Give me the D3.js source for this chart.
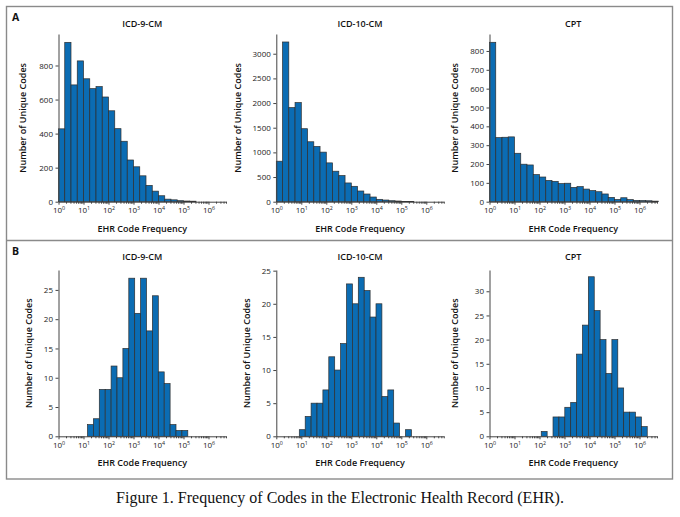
<!DOCTYPE html>
<html><head><meta charset="utf-8">
<script src="https://cdn.jsdelivr.net/npm/d3@7"></script>
<style>body{margin:0;background:#fff}</style>
</head><body><svg id="c" width="680" height="517"></svg>
<script>
// ---------- DATA ----------
const titles = ["ICD-9-CM", "ICD-10-CM", "CPT"];
const panelLabels = ["A", "B"];
const xLabel = "EHR Code Frequency";
const yLabel = "Number of Unique Codes";
const caption = "Figure 1. Frequency of Codes in the Electronic Health Record (EHR).";
const decadeExponents = [0, 1, 2, 3, 4, 5, 6];

// Panel A: histogram bins in log10(frequency), each bin 0.25 wide starting at 10^0
const aBinStart = [0, 0, 0];
const aBinWidth = [0.25, 0.25, 0.25];
const aICD9  = [428, 936, 686, 827, 722, 664, 676, 615, 534, 429, 355, 245, 205, 152, 96, 62, 35, 15, 11, 6, 4, 3];
const aICD10 = [821, 3238, 1908, 2010, 1480, 1215, 1120, 1005, 787, 618, 530, 380, 312, 217, 156, 95, 48, 34, 20, 14, 7, 4];
const aCPT   = [846, 340, 342, 344, 257, 199, 195, 144, 131, 113, 108, 96, 98, 76, 80, 67, 59, 53, 41, 23, 12, 21, 11, 7, 6, 5, 3];

// Panel B: histogram bins in log10(frequency)
const bBinStart = [1.16, 0.92, 2.07];
const bBinWidth = [0.236, 0.236, 0.2355];
const bICD9  = [2, 3, 8, 8, 12, 10, 15, 27, 21, 27, 18, 24, 11, 9, 2, 1, 1];
const bICD10 = [1, 3, 5, 5, 7, 12, 10, 14, 23, 20, 24, 22, 18, 20, 6, 7, 2, 0, 1];
const bCPT   = [1, 0, 4, 4, 6, 7, 17, 23, 33, 26, 20, 13, 20, 10, 5, 5, 4, 2];

// y-axis domains and tick values
const aYMax = [985, 3400, 890];
const aYTicks = [[0,200,400,600,800],[0,500,1000,1500,2000,2500,3000],[0,100,200,300,400,500,600,700,800]];
const bYMax = [28.4, 25.1, 34.4];
const bYTicks = [[0,5,10,15,20,25],[0,5,10,15,20,25],[0,5,10,15,20,25,30]];
const xMaxExp = 6.7;

// ---------- LAYOUT ----------
const svg = d3.select("#c");
const font = "'Open Sans', 'Noto Sans', sans-serif";
const colX0 = [58.5, 276.3, 489.5];
const decadePx = 25;
const ylabOffsetA = [35.5, 38.5, 34.5];
const ylabOffsetB = [29.5, 29.5, 34.5];
const rows = [
  {label: panelLabels[0], yBottom: 201.7, yTop: 34, titleY: 26.5, xlabY: 231.5, labelY: 21,
   series: [aICD9, aICD10, aCPT], start: aBinStart, width: aBinWidth, ymax: aYMax, yticks: aYTicks, ylabOff: ylabOffsetA},
  {label: panelLabels[1], yBottom: 436.3, yTop: 270, titleY: 259.5, xlabY: 466, labelY: 255,
   series: [bICD9, bICD10, bCPT], start: bBinStart, width: bBinWidth, ymax: bYMax, yticks: bYTicks, ylabOff: ylabOffsetB}
];

// frame
svg.append("rect").attr("x", 6.5).attr("y", 6.5).attr("width", 666).attr("height", 472.5)
  .attr("fill", "none").attr("stroke", "#8a8a8a").attr("stroke-width", 1.4);
svg.append("line").attr("x1", 6.5).attr("x2", 672.5).attr("y1", 240.5).attr("y2", 240.5)
  .attr("stroke", "#8a8a8a").attr("stroke-width", 1.4);

const axisColor = "#444";

rows.forEach((row, ri) => {
  svg.append("text").attr("x", 12).attr("y", row.labelY).text(row.label)
    .attr("font-family", font).attr("font-weight", 700).attr("font-size", 10.5).attr("fill", "#111");

  row.series.forEach((vals, ci) => {
    const x0 = colX0[ci];
    const x = d3.scaleLog().domain([1, Math.pow(10, xMaxExp)]).range([x0, x0 + decadePx * xMaxExp]);
    const y = d3.scaleLinear().domain([0, row.ymax[ci]]).range([row.yBottom, row.yTop]);
    const g = svg.append("g");

    // bars
    const bins = vals.map((v, i) => ({
      lo: Math.pow(10, row.start[ci] + i * row.width[ci]),
      hi: Math.pow(10, row.start[ci] + (i + 1) * row.width[ci]),
      v
    })).filter(d => d.v > 0);
    g.selectAll("rect.bar").data(bins).enter().append("rect")
      .attr("x", d => x(d.lo)).attr("width", d => x(d.hi) - x(d.lo))
      .attr("y", d => y(d.v)).attr("height", d => y(0) - y(d.v))
      .attr("fill", "#0b6cb3").attr("stroke", "#2e2e2e").attr("stroke-width", 0.7);

    // x axis
    const tv = [];
    decadeExponents.forEach(k => { for (let m = 1; m <= 9; m++) { const v = m * Math.pow(10, k); if (v <= Math.pow(10, xMaxExp)) tv.push(v); } });
    const xa = g.append("g").attr("transform", `translate(0,${row.yBottom})`)
      .call(d3.axisBottom(x).tickValues(tv).tickSize(2).tickSizeOuter(0).tickFormat(""));
    xa.select(".domain").attr("stroke", axisColor);
    xa.selectAll(".tick line").attr("stroke", axisColor)
      .attr("y2", d => (Math.abs(Math.log10(d) - Math.round(Math.log10(d))) < 1e-9) ? 3 : 2);
    decadeExponents.forEach(k => {
      const t = g.append("text").attr("x", x(Math.pow(10, k)) + 0.5).attr("y", row.yBottom + 11.5)
        .attr("text-anchor", "middle").attr("font-family", font).attr("font-size", 8).attr("fill", "#222");
      t.append("tspan").text("10");
      t.append("tspan").attr("dy", -3.2).attr("font-size", 5.3).text(String(k));
    });

    // y axis
    const ya = g.append("g").attr("transform", `translate(${x0},0)`)
      .call(d3.axisLeft(y).tickValues(row.yticks[ci]).tickSize(3).tickSizeOuter(0).tickPadding(2.5).tickFormat(d3.format("d")));
    ya.select(".domain").attr("stroke", axisColor);
    ya.selectAll(".tick line").attr("stroke", axisColor);
    ya.selectAll(".tick text").attr("font-family", font).attr("font-size", 8).attr("fill", "#222");

    // titles
    const cx = x0 + decadePx * xMaxExp / 2;
    g.append("text").attr("x", cx).attr("y", row.titleY).attr("text-anchor", "middle")
      .attr("font-family", font).attr("font-weight", 600).attr("font-size", 9).attr("fill", "#111").text(titles[ci]);
    g.append("text").attr("x", cx).attr("y", row.xlabY).attr("text-anchor", "middle")
      .attr("font-family", font).attr("font-weight", 600).attr("font-size", 9).attr("fill", "#111").text(xLabel);
    const ly = (row.yBottom + row.yTop) / 2;
    g.append("text").attr("transform", `translate(${x0 - row.ylabOff[ci] + 3},${ly}) rotate(-90)`)
      .attr("text-anchor", "middle").attr("font-family", font).attr("font-weight", 600)
      .attr("font-size", 9).attr("fill", "#111").text(yLabel);
  });
});

svg.append("text").attr("x", 340).attr("y", 503).attr("text-anchor", "middle")
  .attr("font-family", "'Liberation Serif', 'DejaVu Serif', serif").attr("font-size", 16)
  .attr("fill", "#111").text(caption);
</script>
</body></html>
